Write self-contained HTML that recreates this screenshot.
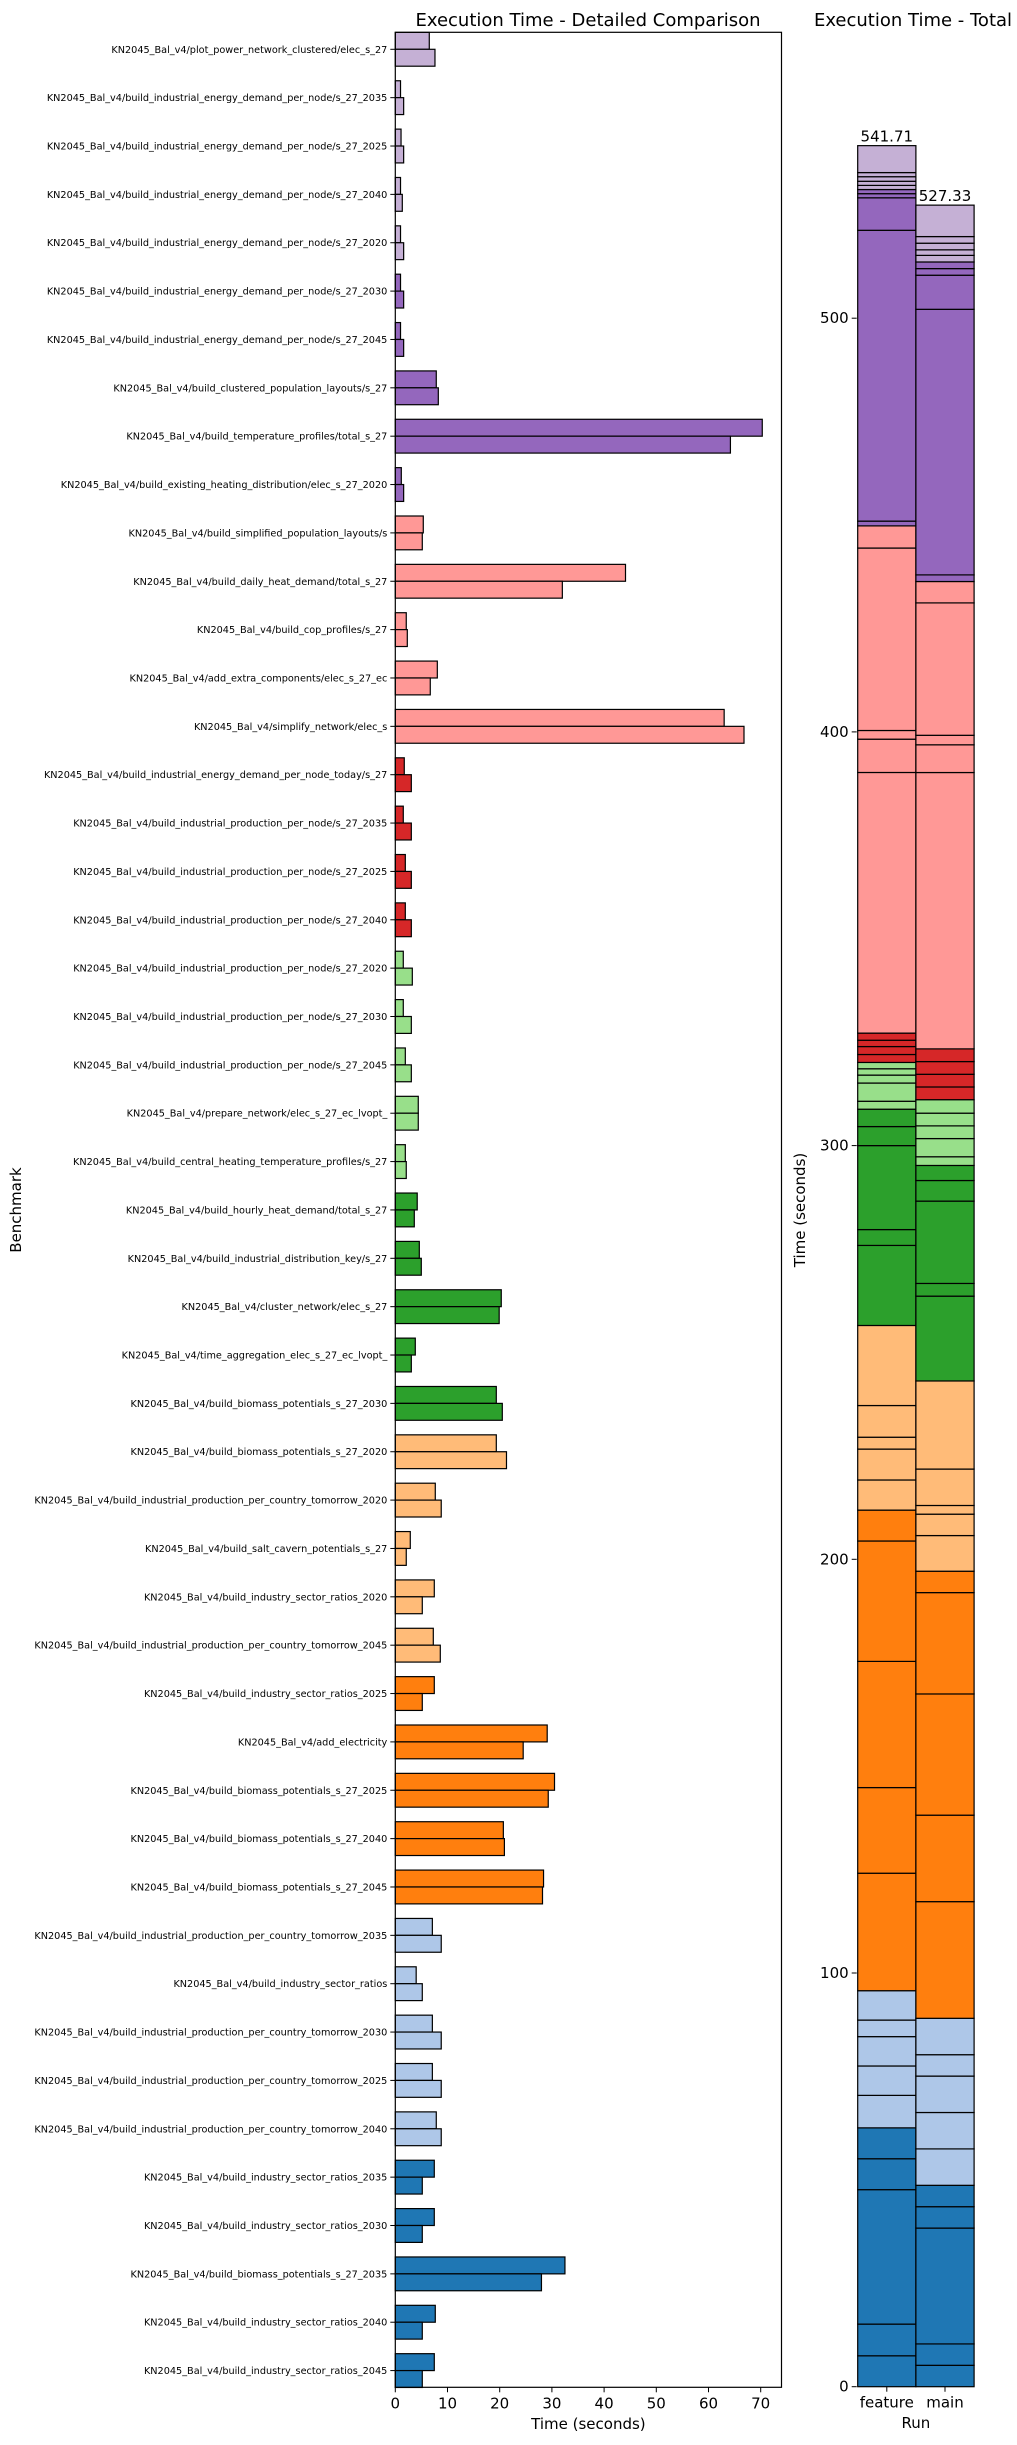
<!DOCTYPE html>
<html><head><meta charset="utf-8"><style>
html,body{margin:0;padding:0;background:#fff;}
svg text{font-family:"DejaVu Sans","Liberation Sans",sans-serif;fill:#000;}
</style></head><body>
<svg id="chart" width="1017" height="2440" viewBox="0 0 1017 2440" xmlns="http://www.w3.org/2000/svg">
<rect x="0" y="0" width="1017" height="2440" fill="#fff"/>
<text x="588" y="26" font-size="18" text-anchor="middle">Execution Time - Detailed Comparison</text>
<text x="913" y="26" font-size="18" text-anchor="middle">Execution Time - Total</text>
<g id="left"></g>
<g id="right"></g>
</svg>
<script>
const categories = [
"plot_power_network_clustered/elec_s_27",
"build_industrial_energy_demand_per_node/s_27_2035",
"build_industrial_energy_demand_per_node/s_27_2025",
"build_industrial_energy_demand_per_node/s_27_2040",
"build_industrial_energy_demand_per_node/s_27_2020",
"build_industrial_energy_demand_per_node/s_27_2030",
"build_industrial_energy_demand_per_node/s_27_2045",
"build_clustered_population_layouts/s_27",
"build_temperature_profiles/total_s_27",
"build_existing_heating_distribution/elec_s_27_2020",
"build_simplified_population_layouts/s",
"build_daily_heat_demand/total_s_27",
"build_cop_profiles/s_27",
"add_extra_components/elec_s_27_ec",
"simplify_network/elec_s",
"build_industrial_energy_demand_per_node_today/s_27",
"build_industrial_production_per_node/s_27_2035",
"build_industrial_production_per_node/s_27_2025",
"build_industrial_production_per_node/s_27_2040",
"build_industrial_production_per_node/s_27_2020",
"build_industrial_production_per_node/s_27_2030",
"build_industrial_production_per_node/s_27_2045",
"prepare_network/elec_s_27_ec_lvopt_",
"build_central_heating_temperature_profiles/s_27",
"build_hourly_heat_demand/total_s_27",
"build_industrial_distribution_key/s_27",
"cluster_network/elec_s_27",
"time_aggregation_elec_s_27_ec_lvopt_",
"build_biomass_potentials_s_27_2030",
"build_biomass_potentials_s_27_2020",
"build_industrial_production_per_country_tomorrow_2020",
"build_salt_cavern_potentials_s_27",
"build_industry_sector_ratios_2020",
"build_industrial_production_per_country_tomorrow_2045",
"build_industry_sector_ratios_2025",
"add_electricity",
"build_biomass_potentials_s_27_2025",
"build_biomass_potentials_s_27_2040",
"build_biomass_potentials_s_27_2045",
"build_industrial_production_per_country_tomorrow_2035",
"build_industry_sector_ratios",
"build_industrial_production_per_country_tomorrow_2030",
"build_industrial_production_per_country_tomorrow_2025",
"build_industrial_production_per_country_tomorrow_2040",
"build_industry_sector_ratios_2035",
"build_industry_sector_ratios_2030",
"build_biomass_potentials_s_27_2035",
"build_industry_sector_ratios_2040",
"build_industry_sector_ratios_2045"
];
const featureValues = [6.51,1.0,1.1,1.0,1.0,1.0,1.0,7.85,70.3,1.15,5.36,44.1,2.1,8.05,63.0,1.72,1.53,1.92,1.92,1.53,1.53,1.92,4.4,1.92,4.2,4.6,20.3,3.83,19.35,19.35,7.66,2.87,7.47,7.28,7.47,29.1,30.5,20.7,28.4,7.1,4.0,7.1,7.1,7.85,7.47,7.47,32.5,7.66,7.47];
const mainValues = [7.6,1.6,1.6,1.34,1.6,1.6,1.6,8.24,64.2,1.6,5.17,32.0,2.3,6.7,66.8,3.07,3.07,3.07,3.07,3.26,3.07,3.07,4.4,2.1,3.64,4.98,19.9,3.07,20.5,21.3,8.8,2.1,5.17,8.62,5.17,24.5,29.3,20.9,28.2,8.8,5.17,8.8,8.8,8.8,5.17,5.17,28.0,5.17,5.17];
const colorGroups = ["#c5b0d5","#c5b0d5","#c5b0d5","#c5b0d5","#c5b0d5","#9467bd","#9467bd","#9467bd","#9467bd","#9467bd","#ff9896","#ff9896","#ff9896","#ff9896","#ff9896","#d62728","#d62728","#d62728","#d62728","#98df8a","#98df8a","#98df8a","#98df8a","#98df8a","#2ca02c","#2ca02c","#2ca02c","#2ca02c","#2ca02c","#ffbb78","#ffbb78","#ffbb78","#ffbb78","#ffbb78","#ff7f0e","#ff7f0e","#ff7f0e","#ff7f0e","#ff7f0e","#aec7e8","#aec7e8","#aec7e8","#aec7e8","#aec7e8","#1f77b4","#1f77b4","#1f77b4","#1f77b4","#1f77b4"];
const xTicks = [0,10,20,30,40,50,60,70];
const totalTicks = [0,100,200,300,400,500];
const runs = ["feature","main"];

const NS="http://www.w3.org/2000/svg";
function mk(tag, attrs, parent, txt){const e=document.createElementNS(NS,tag);for(const k in attrs)e.setAttribute(k,attrs[k]);if(txt!==undefined)e.textContent=txt;parent.appendChild(e);return e;}

const L={x0:395.3,x1:781.5,y0:32.3,y1:2387.3};
const xScale=v=>L.x0+v*5.22;
const yCenter=i=>49.3+i*48.36;
const bh=16.9;
const left=document.getElementById('left');
categories.forEach((c,i)=>{
  const cy=yCenter(i);
  const bf=mk('rect',{x:xScale(0),y:cy-bh,width:xScale(featureValues[i])-xScale(0),height:bh,fill:colorGroups[i],stroke:'#000','stroke-width':1.2},left);
  
  
  const bm=mk('rect',{x:xScale(0),y:cy,width:xScale(mainValues[i])-xScale(0),height:bh,fill:colorGroups[i],stroke:'#000','stroke-width':1.2},left);
  
  
  mk('line',{x1:L.x0-5,x2:L.x0,y1:cy,y2:cy,stroke:'#000','stroke-width':1},left);
  const t=mk('text',{x:L.x0-8,y:cy+3.5,'font-size':9.7,'text-anchor':'end'},left,'KN2045_Bal_v4/'+c);
  
  
});
const frame=mk('rect',{x:L.x0,y:L.y0,width:L.x1-L.x0,height:L.y1-L.y0,fill:'none',stroke:'#000','stroke-width':1.2},left);


xTicks.forEach(v=>{
  mk('line',{x1:xScale(v),x2:xScale(v),y1:L.y1,y2:L.y1+5,stroke:'#000','stroke-width':1},left);
  const t=mk('text',{x:xScale(v),y:L.y1+21,'font-size':15,'text-anchor':'middle'},left,String(v));
  
  
});
const xl=mk('text',{x:(L.x0+L.x1)/2,y:2429,'font-size':15,'text-anchor':'middle'},left,'Time (seconds)');


const yl=mk('text',{x:0,y:0,'font-size':15,'text-anchor':'middle',transform:'translate(21,1210) rotate(-90)'},left,'Benchmark');



const right=document.getElementById('right');
const R={y0:2386.7,x0:857.7,w:58.2};
const tScale=v=>R.y0-v*4.137;
runs.forEach((r,k)=>{
  const vals=k===0?featureValues:mainValues;
  let acc=0;
  for(let i=categories.length-1;i>=0;i--){
    const s=mk('rect',{x:R.x0+k*R.w,y:tScale(acc+vals[i]),width:R.w,height:tScale(acc)-tScale(acc+vals[i]),fill:colorGroups[i],stroke:'#000','stroke-width':1.2},right);
    
    
    acc+=vals[i];
  }
  const lab=mk('text',{x:R.x0+k*R.w+R.w/2,y:tScale(acc)-4,'font-size':15,'text-anchor':'middle'},right,acc.toFixed(2));
  
  
  mk('line',{x1:R.x0+k*R.w+R.w/2,x2:R.x0+k*R.w+R.w/2,y1:R.y0,y2:R.y0+5,stroke:'#000','stroke-width':1},right);
  const tl=mk('text',{x:R.x0+k*R.w+R.w/2,y:R.y0+21,'font-size':15,'text-anchor':'middle'},right,r);
  
  
});
totalTicks.forEach(v=>{
  mk('line',{x1:R.x0-6,x2:R.x0-1,y1:tScale(v),y2:tScale(v),stroke:'#000','stroke-width':1},right);
  const t=mk('text',{x:R.x0-9,y:tScale(v)+5,'font-size':15,'text-anchor':'end'},right,String(v));
  
  
});
const rx=mk('text',{x:R.x0+R.w,y:2428,'font-size':15,'text-anchor':'middle'},right,'Run');


const ry=mk('text',{x:0,y:0,'font-size':15,'text-anchor':'middle',transform:'translate(805,1210) rotate(-90)'},right,'Time (seconds)');


</script>
</body></html>
